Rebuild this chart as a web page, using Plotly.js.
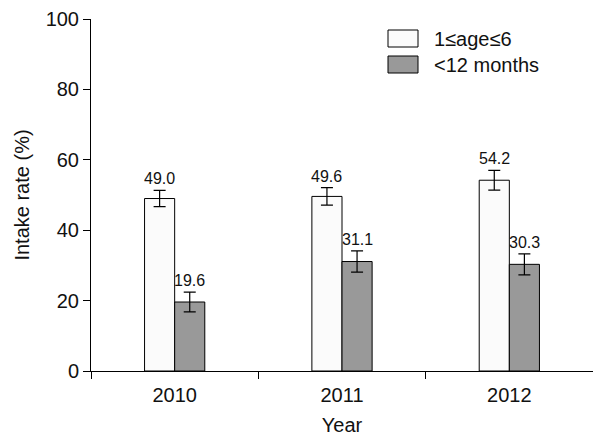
<!DOCTYPE html>
<html>
<head>
<meta charset="utf-8">
<script src="https://cdn.plot.ly/plotly-3.0.1.min.js"></script>
<style>html,body{margin:0;padding:0;background:#fff;}</style>
</head>
<body>
<div id="chart" style="width:593px;height:436px;"></div>
<script>
const years = ["2010", "2011", "2012"];
const seriesNames = ["1≤age≤6", "<12 months"];
const childValues = [49.0, 49.6, 54.2];
const childErrors = [2.3, 2.5, 2.8];
const infantValues = [19.6, 31.1, 30.3];
const infantErrors = [2.8, 3.0, 3.0];
const yTicks = [0, 20, 40, 60, 80, 100];

const colors = ["#fbfbfb", "#999999"];
const barGap = 0.64;
const barWidth = (1 - barGap) / 2;
const font = "Liberation Sans, Arial, sans-serif";
const L = 91, R = 0, T = 19, B = 65, W = 593, H = 436;
const pw = W - L - R, ph = H - T - B;

function barTrace(name, vals, errs, color) {
  return {
    type: "bar", name: name, x: years, y: vals,
    marker: {color: color, line: {color: "#000", width: 1}},
    error_y: {type: "data", array: errs, visible: true, color: "#000", thickness: 1.2, width: 6},
    showlegend: false
  };
}

const traces = [
  barTrace(seriesNames[0], childValues, childErrors, colors[0]),
  barTrace(seriesNames[1], infantValues, infantErrors, colors[1])
];

const annotations = [];
[[childValues, childErrors, -barWidth / 2], [infantValues, infantErrors, barWidth / 2]].forEach(([vals, errs, off]) => {
  vals.forEach((v, i) => {
    annotations.push({
      x: i + off, y: v + errs[i], xref: "x", yref: "y",
      text: v.toFixed(1), showarrow: false, yanchor: "bottom", yshift: 1,
      font: {family: font, size: 16, color: "#111"}
    });
  });
});

// custom legend (larger rectangular swatches like the reference)
const shapes = [];
const legendTop = [30, 56];
seriesNames.forEach((name, i) => {
  const px0 = 388, px1 = 418, py0 = legendTop[i], py1 = legendTop[i] + 17;
  shapes.push({
    type: "rect", xref: "paper", yref: "paper",
    x0: (px0 - L) / pw, x1: (px1 - L) / pw,
    y0: (H - B - py1) / ph, y1: (H - B - py0) / ph,
    fillcolor: colors[i], line: {color: "#000", width: 1}
  });
  annotations.push({
    xref: "paper", yref: "paper",
    x: (432 - L) / pw, y: (H - B - (py0 + py1) / 2) / ph,
    xanchor: "left", yanchor: "middle", showarrow: false,
    text: name, font: {family: font, size: 20, color: "#111"}
  });
});

const layout = {
  width: W, height: H,
  margin: {l: L, r: R, t: T, b: B},
  paper_bgcolor: "#fff", plot_bgcolor: "#fff",
  barmode: "group", bargap: barGap, bargroupgap: 0,
  showlegend: false,
  xaxis: {
    type: "category", range: [-0.5, 2.5],
    showline: true, linecolor: "#000", linewidth: 1,
    ticks: "outside", tickson: "boundaries", ticklen: 7, tickcolor: "#000",
    ticklabelstandoff: 6,
    tickfont: {family: font, size: 20, color: "#111"},
    title: {text: "Year", font: {family: font, size: 20, color: "#111"}, standoff: 18},
    showgrid: false, zeroline: false
  },
  yaxis: {
    range: [0, 100], tickvals: yTicks, ticktext: yTicks.map(String),
    showline: true, linecolor: "#000", linewidth: 1,
    ticks: "outside", ticklen: 7, tickcolor: "#000",
    tickfont: {family: font, size: 20, color: "#111"},
    title: {text: "Intake rate (%)", font: {family: font, size: 20, color: "#111"}, standoff: 10},
    showgrid: false, zeroline: false
  },
  shapes: shapes,
  annotations: annotations
};

Plotly.newPlot("chart", traces, layout, {displayModeBar: false, staticPlot: true});
</script>
</body>
</html>
